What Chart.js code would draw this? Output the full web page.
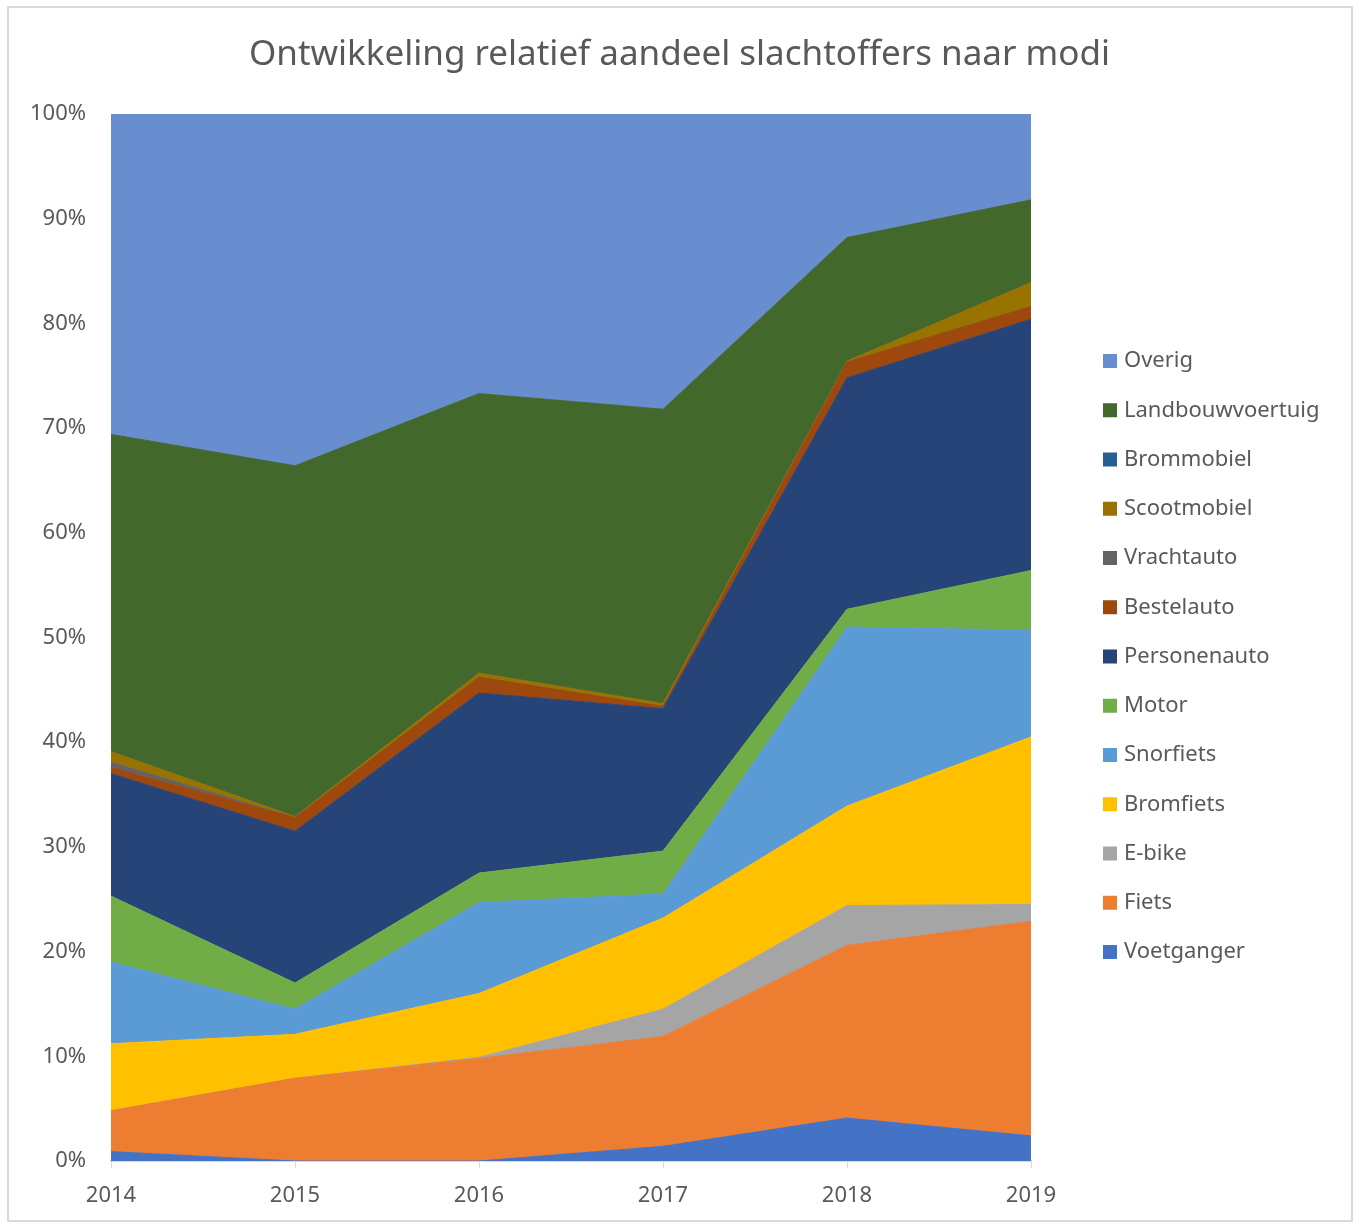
<!DOCTYPE html>
<html>
<head>
<meta charset="utf-8">
<title>Ontwikkeling relatief aandeel slachtoffers naar modi</title>
<script src="https://cdn.jsdelivr.net/npm/chart.js@4.4.1/dist/chart.umd.min.js"></script>
<style>
  html, body { margin: 0; padding: 0; background: #fff; }
</style>
</head>
<body>
<canvas id="modiChart" width="1359" height="1225"></canvas>
<script>
// Years on the x axis
var years = ["2014", "2015", "2016", "2017", "2018", "2019"];

// Share of casualties per mode, in % of the year total (bottom to top)
var voetganger = [0.9, 0.0, 0.0, 1.4, 4.1, 2.4];
var fiets = [3.9, 7.9, 9.8, 10.5, 16.5, 20.5];
var eBike = [0.0, 0.0, 0.1, 2.6, 3.8, 1.6];
var bromfiets = [6.4, 4.2, 6.1, 8.7, 9.5, 16.0];
var snorfiets = [7.8, 2.4, 8.7, 2.3, 17.1, 10.2];
var motor = [6.3, 2.5, 2.8, 4.1, 1.7, 5.7];
var personenauto = [11.7, 14.5, 17.2, 13.6, 22.1, 24.0];
var bestelauto = [0.6, 1.3, 1.5, 0.2, 1.5, 1.2];
var vrachtauto = [0.5, 0.0, 0.0, 0.0, 0.0, 0.0];
var scootmobiel = [1.0, 0.1, 0.4, 0.3, 0.1, 2.3];
var brommobiel = [0.0, 0.0, 0.0, 0.0, 0.0, 0.0];
var landbouwvoertuig = [30.3, 33.5, 26.7, 28.1, 11.8, 7.9];
var overig = [30.6, 33.6, 26.7, 28.2, 11.8, 8.2];

// Y axis ticks (percent)
var yTicks = [0, 10, 20, 30, 40, 50, 60, 70, 80, 90, 100];

var chartTitle = "Ontwikkeling relatief aandeel slachtoffers naar modi";

var series = [
  { label: "Voetganger", data: voetganger, color: "#4472C4" },
  { label: "Fiets", data: fiets, color: "#ED7D31" },
  { label: "E-bike", data: eBike, color: "#A5A5A5" },
  { label: "Bromfiets", data: bromfiets, color: "#FFC000" },
  { label: "Snorfiets", data: snorfiets, color: "#5B9BD5" },
  { label: "Motor", data: motor, color: "#70AD47" },
  { label: "Personenauto", data: personenauto, color: "#264478" },
  { label: "Bestelauto", data: bestelauto, color: "#9E480E" },
  { label: "Vrachtauto", data: vrachtauto, color: "#636363" },
  { label: "Scootmobiel", data: scootmobiel, color: "#997300" },
  { label: "Brommobiel", data: brommobiel, color: "#255E91" },
  { label: "Landbouwvoertuig", data: landbouwvoertuig, color: "#43682B" },
  { label: "Overig", data: overig, color: "#698ED0" }
];

var FONT = "'Noto Sans', 'Open Sans', sans-serif";
var TEXT_GREY = "#595959";

// White background, grey frame and the title centred on the whole canvas
var frame = {
  id: "frame",
  beforeDraw(chart) {
    var ctx = chart.ctx;
    ctx.save();
    ctx.fillStyle = "#ffffff";
    ctx.fillRect(0, 0, chart.width, chart.height);
    ctx.strokeStyle = "#d9d9d9";
    ctx.lineWidth = 2;
    ctx.strokeRect(8, 7, chart.width - 15, chart.height - 11);
    ctx.fillStyle = TEXT_GREY;
    ctx.font = "35px " + FONT;
    ctx.textAlign = "center";
    ctx.textBaseline = "middle";
    ctx.fillText(chartTitle, chart.width / 2, 55);
    ctx.restore();
  }
};

// Legend on the right, top item = top series
var sideLegend = {
  id: "sideLegend",
  afterDraw(chart) {
    var ctx = chart.ctx;
    var items = chart.data.datasets.slice().reverse();
    var x = chart.chartArea.right + 72;
    ctx.save();
    ctx.font = "22px " + FONT;
    ctx.textBaseline = "middle";
    ctx.textAlign = "left";
    items.forEach(function (ds, i) {
      var y = 361 + i * 49.25;
      ctx.fillStyle = ds.backgroundColor;
      ctx.fillRect(x, y - 7, 14, 14);
      ctx.fillStyle = TEXT_GREY;
      ctx.fillText(ds.label, x + 21, y);
    });
    ctx.restore();
  }
};

var datasets = series.map(function (s, i) {
  return {
    label: s.label,
    data: s.data,
    backgroundColor: s.color,
    borderColor: s.color,
    borderWidth: 1,
    pointRadius: 0,
    pointHoverRadius: 0,
    tension: 0,
    fill: i === 0 ? "origin" : "-1"
  };
});

new Chart(document.getElementById("modiChart").getContext("2d"), {
  type: "line",
  data: { labels: years, datasets: datasets },
  options: {
    responsive: false,
    animation: false,
    layout: { padding: { left: 0, right: 328, top: 114, bottom: 0 } },
    plugins: {
      legend: { display: false },
      tooltip: { enabled: false },
      title: { display: false }
    },
    scales: {
      x: {
        offset: false,
        grid: { display: true, drawOnChartArea: false, drawTicks: true, tickLength: 7, color: "#d9d9d9" },
        border: { display: true, color: "#d9d9d9", width: 2 },
        ticks: { color: TEXT_GREY, font: { family: FONT, size: 22 }, padding: 15, maxRotation: 0 },
        afterFit: function (scale) { scale.height = 64; }
      },
      y: {
        stacked: true,
        min: 0,
        max: 100,
        grid: { display: false, drawTicks: false },
        border: { display: false },
        afterBuildTicks: function (scale) {
          scale.ticks = yTicks.map(function (v) { return { value: v }; });
        },
        ticks: {
          color: TEXT_GREY,
          font: { family: FONT, size: 22 },
          padding: 25,
          callback: function (v) { return v + "%"; }
        },
        afterFit: function (scale) { scale.width = 111; }
      }
    }
  },
  plugins: [frame, sideLegend]
});
</script>
</body>
</html>
